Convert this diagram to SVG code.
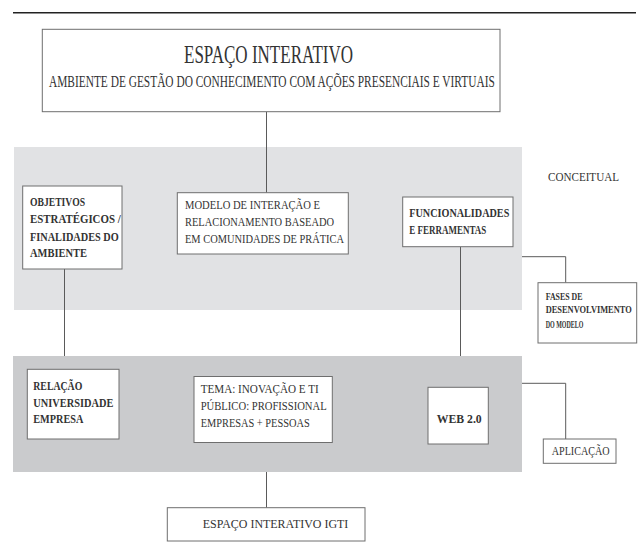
<svg xmlns="http://www.w3.org/2000/svg" width="642" height="551" viewBox="0 0 642 551">
<style>
.box{fill:#ffffff;stroke:#6e6e6e;stroke-width:1}
.panel1{fill:#e1e2e4}
.panel2{fill:#cacbcd}
.conn{fill:none;stroke:#5a5a5a;stroke-width:1}
text{font-family:"Liberation Serif","Times New Roman",serif;fill:#333333}
.r{font-size:12px}
.b{font-size:12px;font-weight:bold}
.s{font-size:10.5px;font-weight:bold}
</style>
<rect width="642" height="551" fill="#ffffff"/>
<line x1="13" y1="12.7" x2="636" y2="12.7" stroke="#222222" stroke-width="1.5"/>
<rect class="panel1" x="14" y="147" width="508" height="163"/>
<rect class="panel2" x="13" y="356" width="509" height="116"/>
<g id="connectors">
<path class="conn" d="M266.5 111.7V192.7"/>
<path class="conn" d="M64.5 269V356"/>
<path class="conn" d="M460.5 247V356"/>
<path class="conn" d="M522 256.7H565.7V282.7"/>
<path class="conn" d="M522 383.3H565.7V439"/>
<path class="conn" d="M266.5 472V507.7"/>
</g>
<g id="title">
<rect class="box" x="42.3" y="29.3" width="457.7" height="82.4"/>
<text x="184" y="62.7" font-size="26" textLength="169" lengthAdjust="spacingAndGlyphs">ESPAÇO INTERATIVO</text>
<text transform="translate(49 87.3) scale(0.62 1)" x="0" y="0" font-size="17" textLength="719" lengthAdjust="spacingAndGlyphs">AMBIENTE DE GESTÃO DO CONHECIMENTO COM AÇÕES PRESENCIAIS E VIRTUAIS</text>
</g>
<g id="conceitual">
<text x="548" y="180.7" font-size="12.5" textLength="71" lengthAdjust="spacingAndGlyphs">CONCEITUAL</text>
</g>
<g id="objetivos">
<rect class="box" x="22.7" y="186" width="99.3" height="83"/>
<text class="b" x="30" y="205.7" textLength="55" lengthAdjust="spacingAndGlyphs">OBJETIVOS</text>
<text class="b" x="30" y="223.3" textLength="90.7" lengthAdjust="spacingAndGlyphs">ESTRATÉGICOS /</text>
<text class="b" x="30" y="240.7" textLength="88.7" lengthAdjust="spacingAndGlyphs">FINALIDADES DO</text>
<text class="b" x="30" y="257.3" textLength="57" lengthAdjust="spacingAndGlyphs">AMBIENTE</text>
</g>
<g id="modelo">
<rect class="box" x="177.3" y="192.7" width="171" height="61.3"/>
<text class="r" x="185" y="209.3" textLength="135" lengthAdjust="spacingAndGlyphs">MODELO DE INTERAÇÃO E</text>
<text class="r" x="185" y="226" textLength="149" lengthAdjust="spacingAndGlyphs">RELACIONAMENTO BASEADO</text>
<text class="r" x="185" y="243.3" textLength="159" lengthAdjust="spacingAndGlyphs">EM COMUNIDADES DE PRÁTICA</text>
</g>
<g id="funcionalidades">
<rect class="box" x="402.7" y="197" width="110.3" height="49.7"/>
<text class="b" x="409.3" y="217.3" textLength="100" lengthAdjust="spacingAndGlyphs">FUNCIONALIDADES</text>
<text class="b" x="409.3" y="234" textLength="77" lengthAdjust="spacingAndGlyphs">E FERRAMENTAS</text>
</g>
<g id="fases">
<rect class="box" x="538" y="282.7" width="98.7" height="60.3"/>
<text class="s" x="545.7" y="300" textLength="36.7" lengthAdjust="spacingAndGlyphs">FASES DE</text>
<text class="s" transform="translate(545.7 313.3) scale(0.75 1)" x="0" y="0" textLength="114.7" lengthAdjust="spacingAndGlyphs">DESENVOLVIMENTO</text>
<text class="s" x="545.7" y="327.7" textLength="37.7" lengthAdjust="spacingAndGlyphs">DO MODELO</text>
</g>
<g id="relacao">
<rect class="box" x="27.3" y="369.3" width="91.7" height="69.7"/>
<text class="b" x="33.3" y="390" textLength="49" lengthAdjust="spacingAndGlyphs">RELAÇÃO</text>
<text class="b" x="33.3" y="406.7" textLength="80" lengthAdjust="spacingAndGlyphs">UNIVERSIDADE</text>
<text class="b" x="33.3" y="423.3" textLength="50" lengthAdjust="spacingAndGlyphs">EMPRESA</text>
</g>
<g id="tema">
<rect class="box" x="194" y="376.5" width="138.3" height="66"/>
<text class="r" x="200.7" y="393.3" textLength="118" lengthAdjust="spacingAndGlyphs">TEMA: INOVAÇÃO E TI</text>
<text class="r" x="200.7" y="410" textLength="126" lengthAdjust="spacingAndGlyphs">PÚBLICO: PROFISSIONAL</text>
<text class="r" x="200.7" y="426.7" textLength="109" lengthAdjust="spacingAndGlyphs">EMPRESAS + PESSOAS</text>
</g>
<g id="web20">
<rect class="box" x="428" y="387.3" width="60.3" height="56.7"/>
<text class="b" x="436.7" y="423.3" textLength="45" lengthAdjust="spacingAndGlyphs">WEB 2.0</text>
</g>
<g id="aplicacao">
<rect class="box" x="543.3" y="439" width="72.7" height="24.3"/>
<text class="r" x="551.7" y="455" textLength="58" lengthAdjust="spacingAndGlyphs">APLICAÇÃO</text>
</g>
<g id="igti">
<rect class="box" x="167.3" y="507.7" width="197.7" height="33.3"/>
<text x="202.7" y="528.3" font-size="13.5" textLength="145.6" lengthAdjust="spacingAndGlyphs">ESPAÇO INTERATIVO IGTI</text>
</g>
</svg>
